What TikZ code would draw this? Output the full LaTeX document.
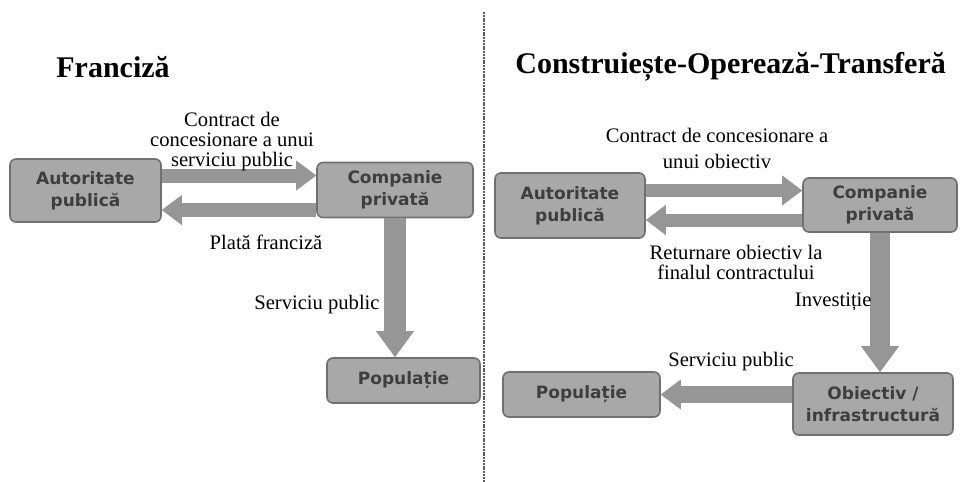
\documentclass[tikz,border=0pt]{standalone}
\usepackage{fontspec}
\setmainfont{Liberation Serif}
\newfontfamily\boxfont{DejaVu Sans}
\usetikzlibrary{arrows.meta}
\definecolor{boxgray}{RGB}{168,168,168}
\definecolor{boxedge}{RGB}{112,112,112}
\definecolor{boxtext}{RGB}{62,62,62}
\definecolor{flowgray}{RGB}{150,150,150}
\definecolor{sepgray}{RGB}{90,90,90}

\begin{document}
\begin{tikzpicture}[
    x=0.5pt, y=-0.5pt,
    party/.style={rectangle, rounded corners=3pt, fill=boxgray, draw=boxedge,
      line width=0.8pt, inner sep=0pt, align=center, text=boxtext,
      font=\boxfont\bfseries\fontsize{8.5}{11}\selectfont},
    ttl/.style={anchor=west, inner sep=0pt, font=\bfseries\fontsize{15}{18}\selectfont},
    lbl/.style={align=center, inner sep=0pt, font=\fontsize{10.3}{10}\selectfont},
    hflow/.style={flowgray, line width=7pt, -{Triangle[line width=0pt, length=10pt, width=15pt]}},
    vflow/.style={flowgray, line width=11pt, -{Triangle[line width=0pt, length=13pt, width=19pt]}},
    sepline/.style={sepgray, line width=0.6pt, dash pattern=on 1pt off 0.4pt}
  ]
  \useasboundingbox (0,0) rectangle (960,482);
  % Separator between the two schemes
  \draw[sepline] (484,12) -- (484,482);

  % Left panel: franchise
  \node[ttl] (titL) at (56,67) {Franciză};
  \node[party, minimum width=75.5pt, minimum height=31.5pt] (autL)  at (85.5,190.5) {Autoritate\\publică};
  \node[party, minimum width=78pt,   minimum height=27.5pt] (compL) at (395,190)    {Companie\\privată};
  \node[party, minimum width=76.5pt, minimum height=22.5pt] (popL)  at (403.5,380.5) {Populație};

  \draw[hflow] ([yshift=7.5pt]autL.east) -- ([yshift=7.5pt]autL.east -| compL.west);
  \draw[hflow] ([yshift=-10pt]compL.west) -- ([yshift=-10pt]compL.west -| autL.east);
  \draw[vflow] (compL.south) -- (compL.south |- popL.north);

  \node[lbl] (contrL) at (232,142) {Contract de\\concesionare a unui\\serviciu public};
  \node[lbl] (plata)  at (266,242) {Plată franciză};
  \node[lbl, anchor=east] (servL) at (380,305) {Serviciu public};

  % Right panel: build-operate-transfer
  \node[ttl] (titR) at (515,67) {Construiește-Operează-Transferă};
  \node[party, minimum width=75pt,   minimum height=32.5pt] (autR)  at (570,205.5) {Autoritate\\publică};
  \node[party, minimum width=77pt,   minimum height=27pt]   (compR) at (880,205)   {Companie\\privată};
  \node[party, minimum width=80pt,   minimum height=31pt]   (objR)  at (873,404)   {Obiectiv /\\infrastructură};
  \node[party, minimum width=78.5pt, minimum height=22.5pt] (popR)  at (581.5,394.5) {Populație};

  \draw[hflow, line width=6.5pt] ([yshift=7.5pt]autR.east) -- ([yshift=7.5pt]autR.east -| compR.west);
  \draw[hflow, line width=6.5pt] ([yshift=-7.5pt]compR.west) -- ([yshift=-7.5pt]compR.west -| autR.east);
  \draw[vflow, line width=10pt] (compR.south) -- (compR.south |- objR.north);
  \draw[hflow, line width=8.5pt] (objR.west |- popR.east) -- (popR.east);

  \node[lbl] (contrR) at (717,148) {Contract de concesionare a\\[3pt]unui obiectiv};
  \node[lbl] (retur)  at (736,262) {Returnare obiectiv la\\finalul contractului};
  \node[lbl, anchor=east] (invest) at (872,302) {Investiție};
  \node[lbl] (servR)  at (731,362) {Serviciu public};
\end{tikzpicture}
\end{document}
